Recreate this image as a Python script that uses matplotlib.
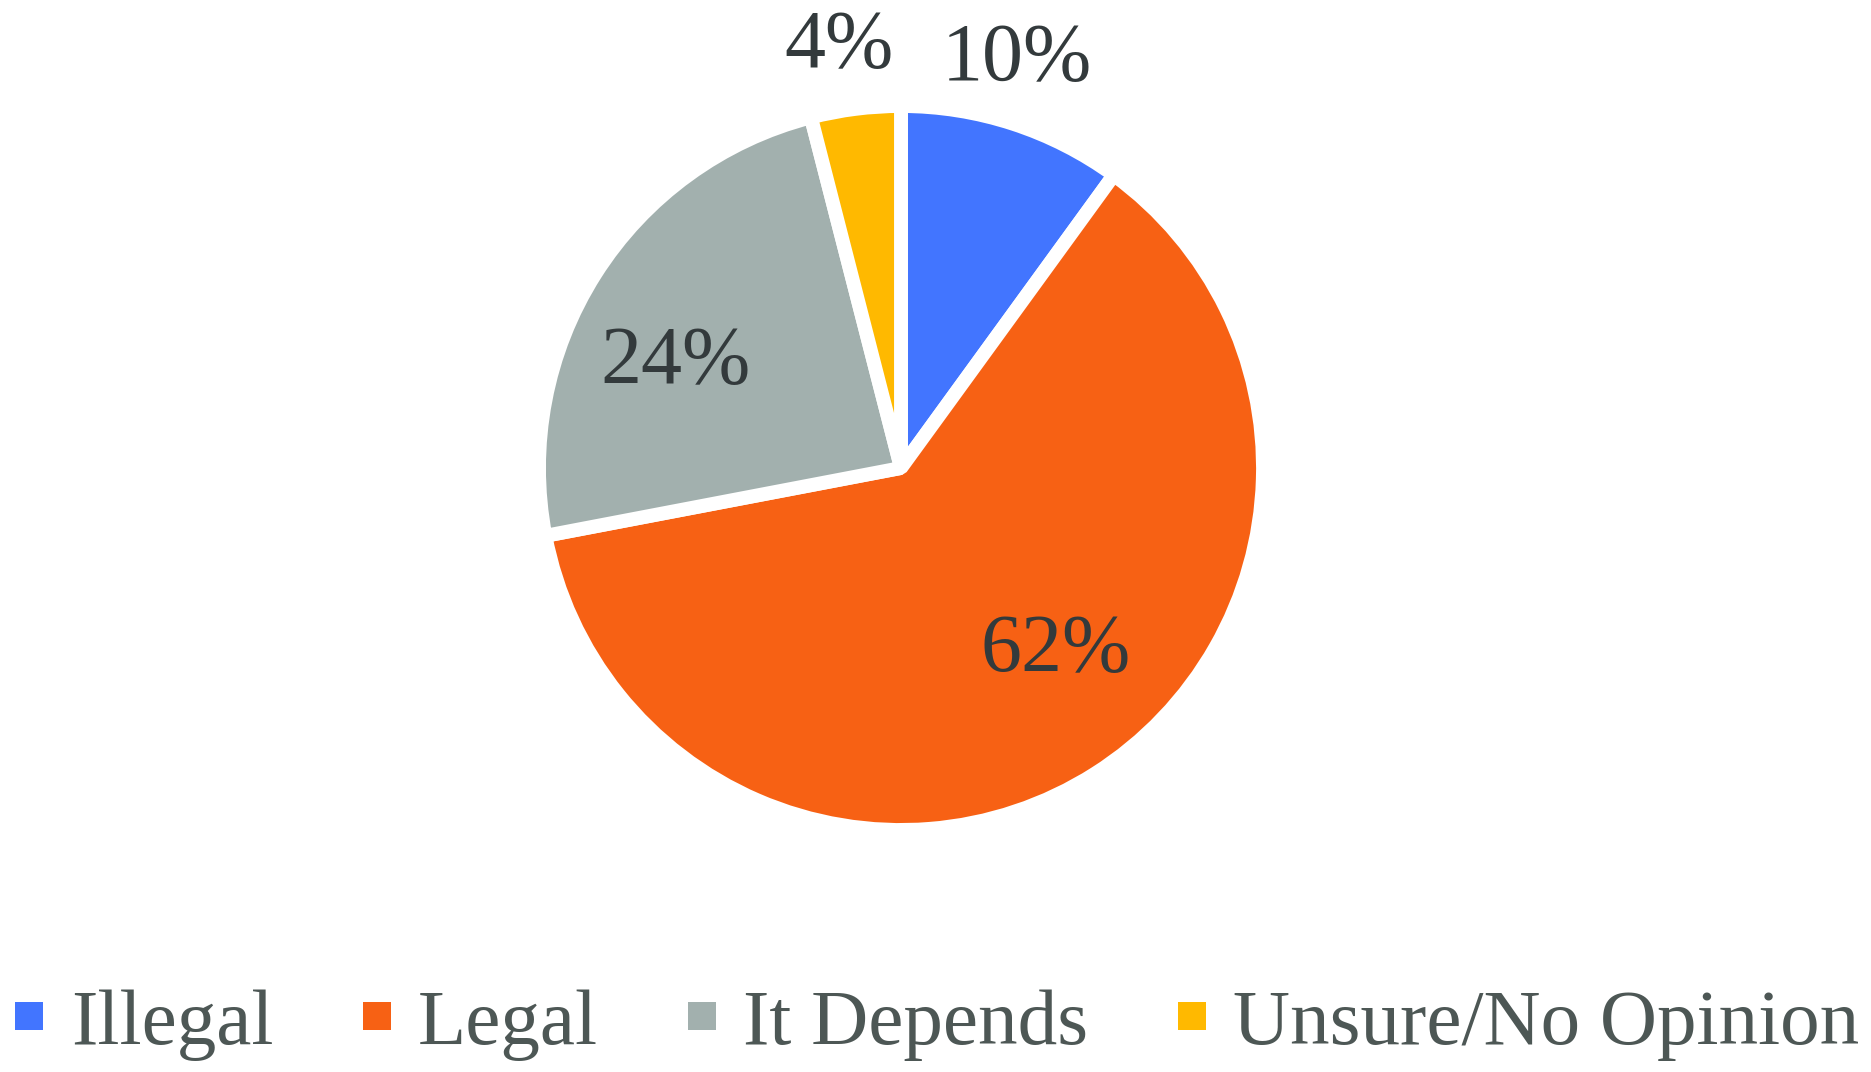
import matplotlib.pyplot as plt
from matplotlib.lines import Line2D

# data
labels = ['Illegal', 'Legal', 'It Depends', 'Unsure/No Opinion']
shares = [10, 62, 24, 4]
colors = ['#4275FF', '#F76114', '#A2B0AE', '#FFB900']

# where the percent labels sit (pie radius units, baseline)
label_pos = [(0.320, 1.073), (0.427, -0.562), (-0.624, 0.236), (-0.171, 1.107)]

plt.rcParams['font.family'] = ['Liberation Serif', 'DejaVu Serif']

fig = plt.figure(figsize=(18.71, 10.72), dpi=100)
cx, cy, r = 901, 468, 362
ax = fig.add_axes([(cx - r) / 1871, (1072 - cy - r) / 1072, 2 * r / 1871, 2 * r / 1072])

ax.pie(shares, colors=colors, startangle=90, counterclock=False, radius=1,
       wedgeprops=dict(edgecolor='white', linewidth=10, joinstyle='bevel'))
ax.set_xlim(-1, 1)
ax.set_ylim(-1, 1)
ax.set_aspect('equal')
ax.axis('off')

for v, (x, y) in zip(shares, label_pos):
    ax.text(x, y, f'{v}%', ha='center', va='baseline', fontsize=59, color='#333a3c')

handles = [Line2D([], [], linestyle='none', marker='s', markersize=19.5,
                  markerfacecolor=c, markeredgewidth=0) for c in colors]
leg = fig.legend(handles, labels, loc='lower center', bbox_to_anchor=(0.5, -0.019),
                 ncol=4, frameon=False, fontsize=57, handlelength=0.45,
                 handletextpad=0.3, columnspacing=1.08, borderaxespad=0)
for t in leg.get_texts():
    t.set_color('#4d5755')

fig.savefig('out.png', dpi=100)
